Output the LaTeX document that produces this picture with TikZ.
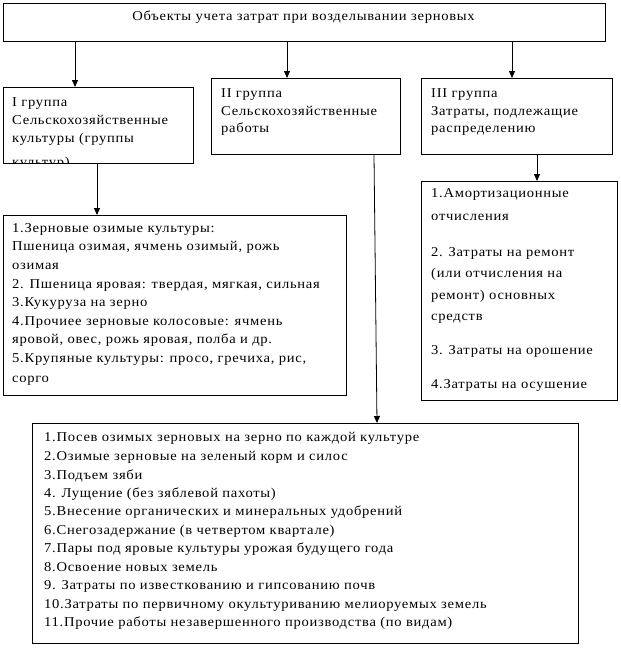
\documentclass[tikz,border=0pt]{standalone}
\usepackage{fontspec}
\setmainfont{Liberation Serif}[FakeStretch=1.08, LetterSpace=5.3]
\usetikzlibrary{arrows.meta}
\begin{document}
\begin{tikzpicture}[x=1pt,y=-1pt,
 box/.style={draw, line width=0.8pt, inner sep=0pt, anchor=north west},
 ln/.style={anchor=base west, inner sep=0pt, font=\fontsize{13.5}{15}\selectfont},
 arr/.style={line width=0.8pt, -{Triangle[width=6pt,length=7pt]}}]
\useasboundingbox (0,0) rectangle (621,649);
% boxes
\node[box, minimum width=602pt, minimum height=38pt] (top) at (3,3) {};
\node[box, minimum width=190pt, minimum height=76pt] (g1) at (3,87) {};
\node[box, minimum width=189pt, minimum height=76pt] (g2) at (211,78) {};
\node[box, minimum width=191pt, minimum height=76pt] (g3) at (421,78) {};
\node[box, minimum width=343pt, minimum height=180pt] (l1) at (3,215) {};
\node[box, minimum width=196pt, minimum height=219pt] (l3) at (421,181) {};
\node[box, minimum width=546pt, minimum height=220pt] (l2) at (32,423) {};
% texts
\node[ln, anchor=base] (t0) at (303.5,20.7) {Объекты учета затрат при возделывании зерновых};
\begin{scope}
\clip (g1.north west) rectangle (g1.south east);
\foreach \y/\t [count=\i] in {106.7/{I группа},124.5/{Сельскохозяйственные},142/{культуры (группы},166/{культур)}}
  \node[ln] (h1-\i) at (12,\y) {\t};
\end{scope}
\foreach \y/\t [count=\i] in {97.7/{II группа},115/{Сельскохозяйственные},132.5/{работы}}
  \node[ln] (h2-\i) at (221,\y) {\t};
\foreach \y/\t [count=\i] in {97.7/{III группа},115/{Затраты, подлежащие},132.5/{распределению}}
  \node[ln] (h3-\i) at (431,\y) {\t};
\foreach \y/\t [count=\i] in {232/{1.Зерновые озимые культуры:},250.5/{Пшеница озимая, ячмень озимый, рожь},269/{озимая},288/{2. Пшеница яровая: твердая, мягкая, сильная},306/{3.Кукуруза на зерно},325/{4.Прочиее зерновые колосовые: ячмень},343/{яровой, овес, рожь яровая, полба и др.},362/{5.Крупяные культуры: просо, гречиха, рис,},382/{сорго}}
  \node[ln] (p1-\i) at (12,\y) {\t};
\foreach \y/\t [count=\i] in {197/{1.Амортизационные},220/{отчисления},256/{2. Затраты на ремонт},277/{(или отчисления на},299/{ремонт) основных},320/{средств},354/{3. Затраты на орошение},388/{4.Затраты на осушение}}
  \node[ln] (p3-\i) at (431,\y) {\t};
\foreach \y/\t [count=\i] in {441.7/{1.Посев озимых зерновых на зерно по каждой культуре},460/{2.Озимые зерновые на зеленый корм и силос},479/{3.Подъем зяби},497/{4. Лущение (без зяблевой пахоты)},515/{5.Внесение органических и минеральных удобрений},534/{6.Снегозадержание (в четвертом квартале)},552/{7.Пары под яровые культуры урожая будущего года},571/{8.Освоение новых земель},589/{9. Затраты по известкованию и гипсованию почв},608/{10.Затраты по первичному окультуриванию мелиоруемых земель},626/{11.Прочие работы незавершенного производства (по видам)}}
  \node[ln] (p2-\i) at (44,\y) {\t};
% connectors
\coordinate (a1) at (75,0);
\coordinate (a2) at (287,0);
\coordinate (a3) at (512,0);
\coordinate (b1) at (97,0);
\coordinate (b3) at (537,0);
\coordinate (s2) at (374,0);
\coordinate (e2) at (377,0);
\draw[arr] (a1 |- top.south) -- (a1 |- g1.north);
\draw[arr] (a2 |- top.south) -- (a2 |- g2.north);
\draw[arr] (a3 |- top.south) -- (a3 |- g3.north);
\draw[arr] (b1 |- g1.south) -- (b1 |- l1.north);
\draw[arr] (b3 |- g3.south) -- (b3 |- l3.north);
\draw[arr] (s2 |- g2.south) -- (e2 |- l2.north);
\end{tikzpicture}
\end{document}
